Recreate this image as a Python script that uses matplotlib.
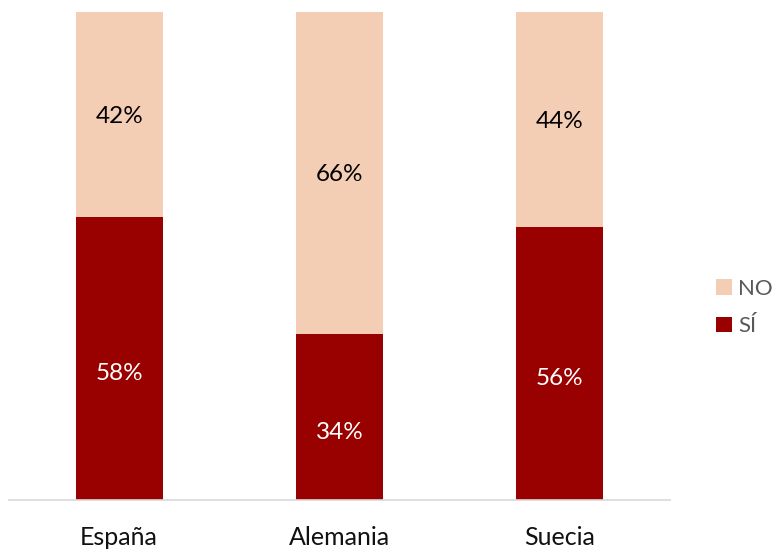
import matplotlib.pyplot as plt
import numpy as np

plt.rcParams['font.family'] = ['Lato', 'DejaVu Sans']

paises = ['España', 'Alemania', 'Suecia']
si = [58, 34, 56]
no = [42, 66, 44]

color_si = '#990000'
color_no = '#F4CDB5'

fig = plt.figure(figsize=(7.76, 5.49), dpi=100)
ax = fig.add_axes([9/776, 49/549, 661/776, 488/549])

x = np.arange(len(paises))
b1 = ax.bar(x, si, width=0.395, color=color_si, label='SÍ')
b2 = ax.bar(x, no, width=0.395, bottom=si, color=color_no, label='NO')

# etiquetas del SÍ un poco por debajo del centro, como en el original
off_si = -3.1
for i in range(len(paises)):
    ax.text(x[i], si[i] / 2 + off_si, f'{si[i]}%', ha='center', va='center',
            color='white', fontsize=17.5)
    ax.text(x[i], si[i] + no[i] / 2 - 0.4, f'{no[i]}%', ha='center', va='center',
            color='black', fontsize=17.5)

ax.set_xlim(-0.5, 2.5)
ax.set_ylim(0, 100)
ax.set_xticks(x)
ax.set_xticklabels(paises, fontsize=18, color='#111111')
ax.tick_params(axis='x', length=0, pad=18.5)
ax.set_yticks([])
for s in ['top', 'right', 'left']:
    ax.spines[s].set_visible(False)
ax.spines['bottom'].set_color('#D9D9D9')
ax.spines['bottom'].set_linewidth(1.2)

handles = [b2, b1]
leg = fig.legend(handles, ['NO', 'SÍ'], loc='center left', bbox_to_anchor=(716/776, 0.44),
                 frameon=False, fontsize=16, handlelength=0.72, handleheight=0.72,
                 handletextpad=0.28, labelspacing=0.8, borderpad=0, borderaxespad=0,
                 labelcolor='#595959')

fig.savefig('out.png', dpi=100)
